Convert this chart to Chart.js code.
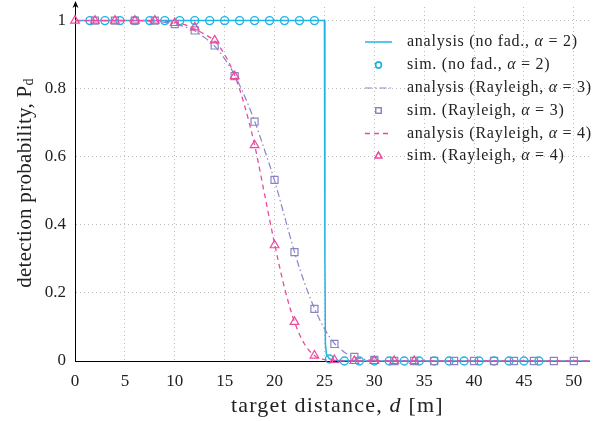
<!DOCTYPE html>
<html>
<head>
<meta charset="utf-8">
<script src="https://cdn.jsdelivr.net/npm/chart.js@4.4.1/dist/chart.umd.min.js"></script>
<style>
  body { margin: 0; background: #fff; }
  #wrap { width: 596px; height: 421px; }
</style>
</head>
<body>
<div id="wrap"><canvas id="myChart" width="596" height="421"></canvas></div>
<script>
// tick labels
var xTicks = [0, 5, 10, 15, 20, 25, 30, 35, 40, 45, 50];
var yTicks = [0, 0.2, 0.4, 0.6, 0.8, 1];

var seriesLabels = [
  "analysis (no fad., α = 2)",
  "sim. (no fad., α = 2)",
  "analysis (Rayleigh, α = 3)",
  "sim. (Rayleigh, α = 3)",
  "analysis (Rayleigh, α = 4)",
  "sim. (Rayleigh, α = 4)"
];

// no fading, alpha = 2
var xNoFadAna = [0, 25, 25.05, 25.1, 25.2, 25.5, 26, 28, 51.6];
var yNoFadAna = [1, 1, 0.3, 0.05, 0.02, 0.006, 0.002, 0, 0];
var xNoFadSim = [1.5, 3, 4.5, 6, 7.5, 9, 10.5, 12, 13.5, 15, 16.5, 18, 19.5, 21, 22.5, 24,
  25.5, 27, 28.5, 30, 31.5, 33, 34.5, 36, 37.5, 39, 40.5, 42, 43.5, 45, 46.5];
var yNoFadSim = [1, 1, 1, 1, 1, 1, 1, 1, 1, 1, 1, 1, 1, 1, 1, 1,
  0.006, 0, 0, 0, 0, 0, 0, 0, 0, 0, 0, 0, 0, 0, 0];

// Rayleigh, alpha = 3
var xR3Ana = [0, 1, 2, 3, 4, 5, 6, 7, 8, 9, 10, 11, 12, 13, 14, 15, 16, 17, 18, 19, 20,
  21, 22, 23, 24, 25, 26, 27, 28, 29, 30, 32, 51.6];
var yR3Ana = [1, 1, 1, 1, 1, 1, 1, 0.999, 0.998, 0.995, 0.99, 0.982, 0.97, 0.95, 0.925, 0.888,
  0.84, 0.778, 0.705, 0.62, 0.53, 0.425, 0.32, 0.23, 0.155, 0.095, 0.052, 0.026, 0.012,
  0.005, 0.002, 0, 0];
var xR3Sim = [2, 4, 6, 8, 10, 12, 14, 16, 18, 20, 22, 24, 26, 28, 30, 32, 34, 36, 38, 40,
  42, 44, 46, 48, 50];
var yR3Sim = [1, 1, 1, 1, 0.99, 0.971, 0.927, 0.837, 0.703, 0.532, 0.32, 0.153, 0.05, 0.012,
  0.003, 0, 0, 0, 0, 0, 0, 0, 0, 0, 0];

// Rayleigh, alpha = 4
var xR4Ana = [0, 1, 2, 3, 4, 5, 6, 7, 8, 9, 10, 11, 12, 13, 14, 15, 16, 17, 18, 19, 20,
  21, 22, 23, 24, 25, 26, 27, 51.6];
var yR4Ana = [1, 1, 1, 1, 1, 1, 1, 1, 1, 0.998, 0.995, 0.988, 0.975, 0.96, 0.94, 0.9, 0.84,
  0.75, 0.635, 0.49, 0.345, 0.215, 0.115, 0.05, 0.016, 0.004, 0.001, 0, 0];
var xR4Sim = [0, 2, 4, 6, 8, 10, 12, 14, 16, 18, 20, 22, 24, 26, 28, 30, 32, 34];
var yR4Sim = [1, 1, 1, 1, 1, 0.993, 0.98, 0.942, 0.837, 0.634, 0.34, 0.115, 0.016, 0.003,
  0, 0, 0, 0];

var cyan = "#20b4e6";
var purple = "#8985c4";
var pink = "#ec4a9e";
var serif = "'Liberation Serif', 'DejaVu Serif', serif";

function pts(xs, ys) {
  return xs.map(function (x, i) { return { x: x, y: ys[i] }; });
}

var datasets = [
  { data: pts(xNoFadAna, yNoFadAna), showLine: true, borderColor: cyan, borderWidth: 1.5,
    pointRadius: 0, tension: 0 },
  { data: pts(xNoFadSim, yNoFadSim), showLine: false, borderColor: cyan, backgroundColor: "rgba(0,0,0,0)",
    pointStyle: "circle", pointRadius: 4, pointBorderWidth: 1.4 },
  { data: pts(xR3Ana, yR3Ana), showLine: true, borderColor: purple, borderWidth: 1.2,
    borderDash: [7, 3, 1.5, 3], pointRadius: 0, cubicInterpolationMode: "monotone" },
  { data: pts(xR3Sim, yR3Sim), showLine: false, borderColor: purple, backgroundColor: "rgba(0,0,0,0)",
    pointStyle: "rect", pointRadius: 5, pointBorderWidth: 1.2 },
  { data: pts(xR4Ana, yR4Ana), showLine: true, borderColor: pink, borderWidth: 1.3,
    borderDash: [5, 4], pointRadius: 0, cubicInterpolationMode: "monotone" },
  { data: pts(xR4Sim, yR4Sim), showLine: false, borderColor: pink, backgroundColor: "rgba(0,0,0,0)",
    pointStyle: "triangle", pointRadius: 5, pointBorderWidth: 1.2 }
];
datasets.forEach(function (d, i) {
  d.label = seriesLabels[i];
  d.order = 6 - i;
  d.clip = false;
  d.fill = false;
});

// draw text with italic alpha / d parts
function drawParts(ctx, parts, x, y, size, align, spacing) {
  ctx.letterSpacing = (spacing || 0) + "px";
  var total = 0;
  parts.forEach(function (p) {
    ctx.font = (p[1] ? "italic " : "") + size + "px " + serif;
    total += ctx.measureText(p[0]).width;
  });
  var cx = align === "center" ? x - total / 2 : x;
  ctx.textAlign = "left";
  parts.forEach(function (p) {
    ctx.font = (p[1] ? "italic " : "") + size + "px " + serif;
    ctx.fillText(p[0], cx, y);
    cx += ctx.measureText(p[0]).width;
  });
  ctx.letterSpacing = "0px";
}

function alphaParts(s) {
  var bits = s.split("α");
  return [[bits[0], 0], ["α", 1], [bits[1], 0]];
}

var extras = {
  id: "extras",
  afterDraw: function (chart) {
    var ctx = chart.ctx;
    var area = chart.chartArea;
    ctx.save();
    ctx.textBaseline = "middle";

    // y axis arrow
    ctx.strokeStyle = "#000";
    ctx.lineWidth = 1;
    ctx.beginPath();
    ctx.moveTo(area.left + 0.5, area.top);
    ctx.lineTo(area.left + 0.5, 3);
    ctx.stroke();
    ctx.fillStyle = "#000";
    ctx.beginPath();
    ctx.moveTo(area.left + 0.5, 1);
    ctx.lineTo(area.left - 2.5, 8);
    ctx.lineTo(area.left + 0.5, 6);
    ctx.lineTo(area.left + 3.5, 8);
    ctx.closePath();
    ctx.fill();

    // axis titles
    ctx.fillStyle = "#222";
    drawParts(ctx, [["target distance, ", 0], ["d", 1], [" [m]", 0]],
      (area.left + area.right) / 2 + 5, 406, 22, "center", 1.2);
    ctx.save();
    ctx.translate(25, (area.top + area.bottom) / 2 - 1);
    ctx.rotate(-Math.PI / 2);
    ctx.letterSpacing = "0.3px";
    ctx.font = "21px " + serif;
    var main = "detection probability, P";
    var w1 = ctx.measureText(main).width;
    ctx.font = "14px " + serif;
    var w2 = ctx.measureText("d").width;
    var sx = -(w1 + w2) / 2;
    ctx.font = "21px " + serif;
    ctx.fillText(main, sx, 0);
    ctx.font = "14px " + serif;
    ctx.fillText("d", sx + w1, 4);
    ctx.restore();

    // legend
    var rowY = [42, 65, 88, 110.5, 133.5, 156];
    chart.data.datasets.forEach(function (d, i) {
      var y = rowY[i];
      ctx.save();
      ctx.strokeStyle = d.borderColor;
      if (d.showLine) {
        ctx.lineWidth = d.borderWidth;
        ctx.setLineDash(d.borderDash || []);
        ctx.beginPath();
        ctx.moveTo(365, y);
        ctx.lineTo(392, y);
        ctx.stroke();
      } else {
        ctx.lineWidth = d.pointBorderWidth;
        ctx.fillStyle = "rgba(0,0,0,0)";
        Chart.helpers.drawPoint(ctx, { pointStyle: d.pointStyle, radius: d.pointRadius - 1,
          rotation: 0, borderWidth: d.pointBorderWidth }, 378.5, y);
        ctx.stroke();
      }
      ctx.restore();
      ctx.fillStyle = "#222";
      ctx.textBaseline = "middle";
      drawParts(ctx, alphaParts(d.label), 407, y, 16, "left", 0.75);
    });
    ctx.restore();
  }
};

var gridStyle = { color: "#bdbdbd", lineWidth: 1, drawTicks: false };

const myChart = new Chart("myChart", {
  type: "scatter",
  data: { datasets: datasets },
  options: {
    responsive: false,
    animation: false,
    events: [],
    layout: { padding: { top: 7, right: 0, left: 0, bottom: 0 } },
    plugins: { legend: { display: false }, tooltip: { enabled: false } },
    scales: {
      x: {
        type: "linear",
        min: 0,
        max: 51.6,
        grid: gridStyle,
        border: { color: "#000", width: 1, dash: [1, 3] },
        ticks: {
          padding: 10,
          color: "#222",
          font: { family: serif, size: 17 },
          callback: function (v) { return String(v); }
        },
        afterBuildTicks: function (axis) {
          axis.ticks = xTicks.map(function (v) { return { value: v }; });
        },
        afterFit: function (axis) {
          axis.height = 60;
          axis.paddingLeft = 0;
          axis.paddingRight = 0;
        }
      },
      y: {
        type: "linear",
        min: 0,
        max: 1.04,
        grid: gridStyle,
        border: { color: "#000", width: 1, dash: [1, 3] },
        ticks: {
          padding: 9,
          color: "#222",
          font: { family: serif, size: 17 },
          callback: function (v) { return String(Math.round(v * 10) / 10); }
        },
        afterBuildTicks: function (axis) {
          axis.ticks = yTicks.map(function (v) { return { value: v }; });
        },
        afterFit: function (axis) {
          axis.width = 75;
          axis.paddingTop = 0;
          axis.paddingBottom = 0;
        }
      }
    }
  },
  plugins: [extras]
});
</script>
</body>
</html>
